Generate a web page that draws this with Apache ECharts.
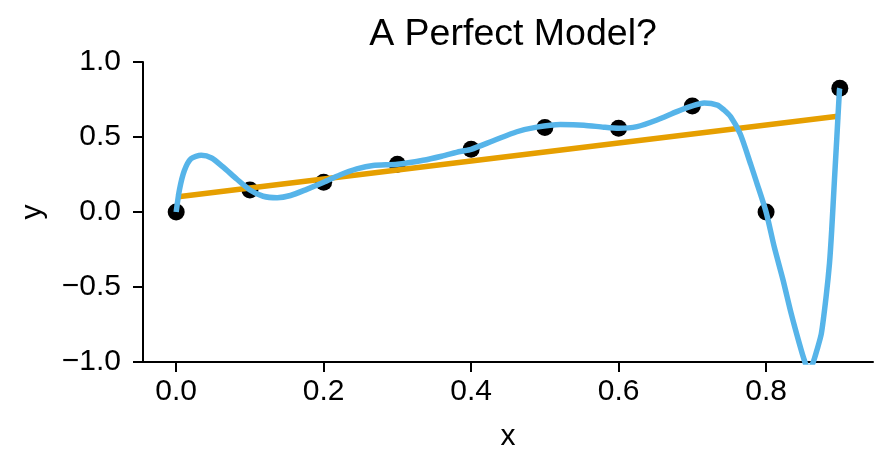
<!DOCTYPE html>
<html>
<head>
<meta charset="utf-8">
<script src="https://cdn.jsdelivr.net/npm/echarts@6/dist/echarts.min.js"></script>
<style>
  html, body { margin: 0; padding: 0; background: #ffffff; }
  #chart { width: 890px; height: 471px; }
</style>
</head>
<body>
<div id="chart"></div>
<script>
// ---- data ----
const titleText = 'A Perfect Model?';
const xName = 'x';
const yName = 'y';

// observed points
const pointX = [0.0, 0.1, 0.2, 0.3, 0.4, 0.5, 0.6, 0.7, 0.8, 0.9];
const pointY = [0.0, 0.147, 0.198, 0.318, 0.418, 0.564, 0.558, 0.707, 0.0, 0.825];

// straight-line fit (orange), endpoints
const fitX = [0.0, 0.9];
const fitY = [0.10, 0.64];

// high-degree curve (blue), samples
const curveX = [0.0, 0.0045, 0.011, 0.02, 0.034, 0.048, 0.063, 0.082, 0.1, 0.118,
  0.137, 0.155, 0.177, 0.2, 0.222, 0.245, 0.267, 0.3, 0.335, 0.36,
  0.385, 0.4, 0.43, 0.462, 0.489, 0.521, 0.553, 0.58, 0.6, 0.625,
  0.652, 0.679, 0.7, 0.716, 0.734, 0.743, 0.752, 0.765, 0.779, 0.787,
  0.8, 0.811, 0.823, 0.834, 0.845, 0.852, 0.858, 0.864, 0.869, 0.875,
  0.8814, 0.886, 0.889, 0.8927, 0.896, 0.8995, 0.9];
const curveY = [0.0, 0.15, 0.275, 0.355, 0.378, 0.36, 0.302, 0.22, 0.147, 0.105,
  0.095, 0.11, 0.151, 0.198, 0.247, 0.287, 0.31, 0.318, 0.345, 0.372,
  0.403, 0.418, 0.475, 0.535, 0.566, 0.583, 0.579, 0.565, 0.558, 0.569,
  0.613, 0.669, 0.707, 0.726, 0.713, 0.68, 0.635, 0.52, 0.32, 0.2,
  0.0, -0.231, -0.453, -0.676, -0.875, -0.99, -1.06, -1.0, -0.92, -0.809,
  -0.565, -0.342, -0.12, 0.213, 0.5, 0.813, 0.825];

// axis ticks
const xTicks = [0.0, 0.2, 0.4, 0.6, 0.8];
const yTicks = [-1.0, -0.5, 0.0, 0.5, 1.0];

// ---- build series data from the arrays ----
const zip = (xs, ys) => xs.map((x, i) => [x, ys[i]]);
const fmt = v => v.toFixed(1).replace('-', '\u2212');
const FONT = "'Liberation Sans', Arial, Helvetica, sans-serif";

const chart = echarts.init(document.getElementById('chart'), null, { renderer: 'canvas' });
chart.setOption({
  animation: false,
  backgroundColor: '#ffffff',
  textStyle: { fontFamily: FONT, color: '#000' },
  title: {
    text: titleText,
    left: 508,
    textAlign: 'center',
    top: 11,
    textStyle: { fontFamily: FONT, fontSize: 37.5, fontWeight: 'normal', color: '#000' }
  },
  grid: {
    left: 143, right: 17, top: 62, bottom: 109,
    containLabel: false,
    outerBoundsMode: 'none'
  },
  xAxis: {
    type: 'value',
    min: -0.045,
    max: 0.945,
    name: xName,
    nameLocation: 'middle',
    nameGap: 60,
    nameTextStyle: { fontFamily: FONT, fontSize: 30, color: '#000' },
    axisLine: { show: true, onZero: false, lineStyle: { color: '#000', width: 2 } },
    axisTick: { show: true, inside: false, length: 10, customValues: xTicks, lineStyle: { color: '#000', width: 2 } },
    axisLabel: { show: true, margin: 15, customValues: xTicks, formatter: fmt, fontFamily: FONT, fontSize: 30, color: '#000' },
    splitLine: { show: false }
  },
  yAxis: {
    type: 'value',
    min: -1,
    max: 1,
    interval: 0.5,
    name: yName,
    nameLocation: 'middle',
    nameGap: 95,
    nameRotate: 90,
    nameTextStyle: { fontFamily: FONT, fontSize: 30, color: '#000' },
    axisLine: { show: true, onZero: false, lineStyle: { color: '#000', width: 2 } },
    axisTick: { show: true, inside: false, length: 10, lineStyle: { color: '#000', width: 2 } },
    axisLabel: { show: true, margin: 22, customValues: yTicks, formatter: fmt, fontFamily: FONT, fontSize: 30, color: '#000' },
    splitLine: { show: false }
  },
  series: [
    {
      type: 'scatter',
      data: zip(pointX, pointY),
      symbol: 'circle',
      symbolSize: 17,
      itemStyle: { color: '#000', opacity: 1 },
      z: 1
    },
    {
      type: 'line',
      data: zip(fitX, fitY),
      showSymbol: false,
      symbol: 'none',
      lineStyle: { color: '#E69F00', width: 5.5 },
      z: 2
    },
    {
      type: 'line',
      data: zip(curveX, curveY),
      showSymbol: false,
      symbol: 'none',
      smooth: 0.25,
      clip: true,
      lineStyle: { color: '#56B4E9', width: 5.5 },
      z: 3
    }
  ]
});
</script>
</body>
</html>
